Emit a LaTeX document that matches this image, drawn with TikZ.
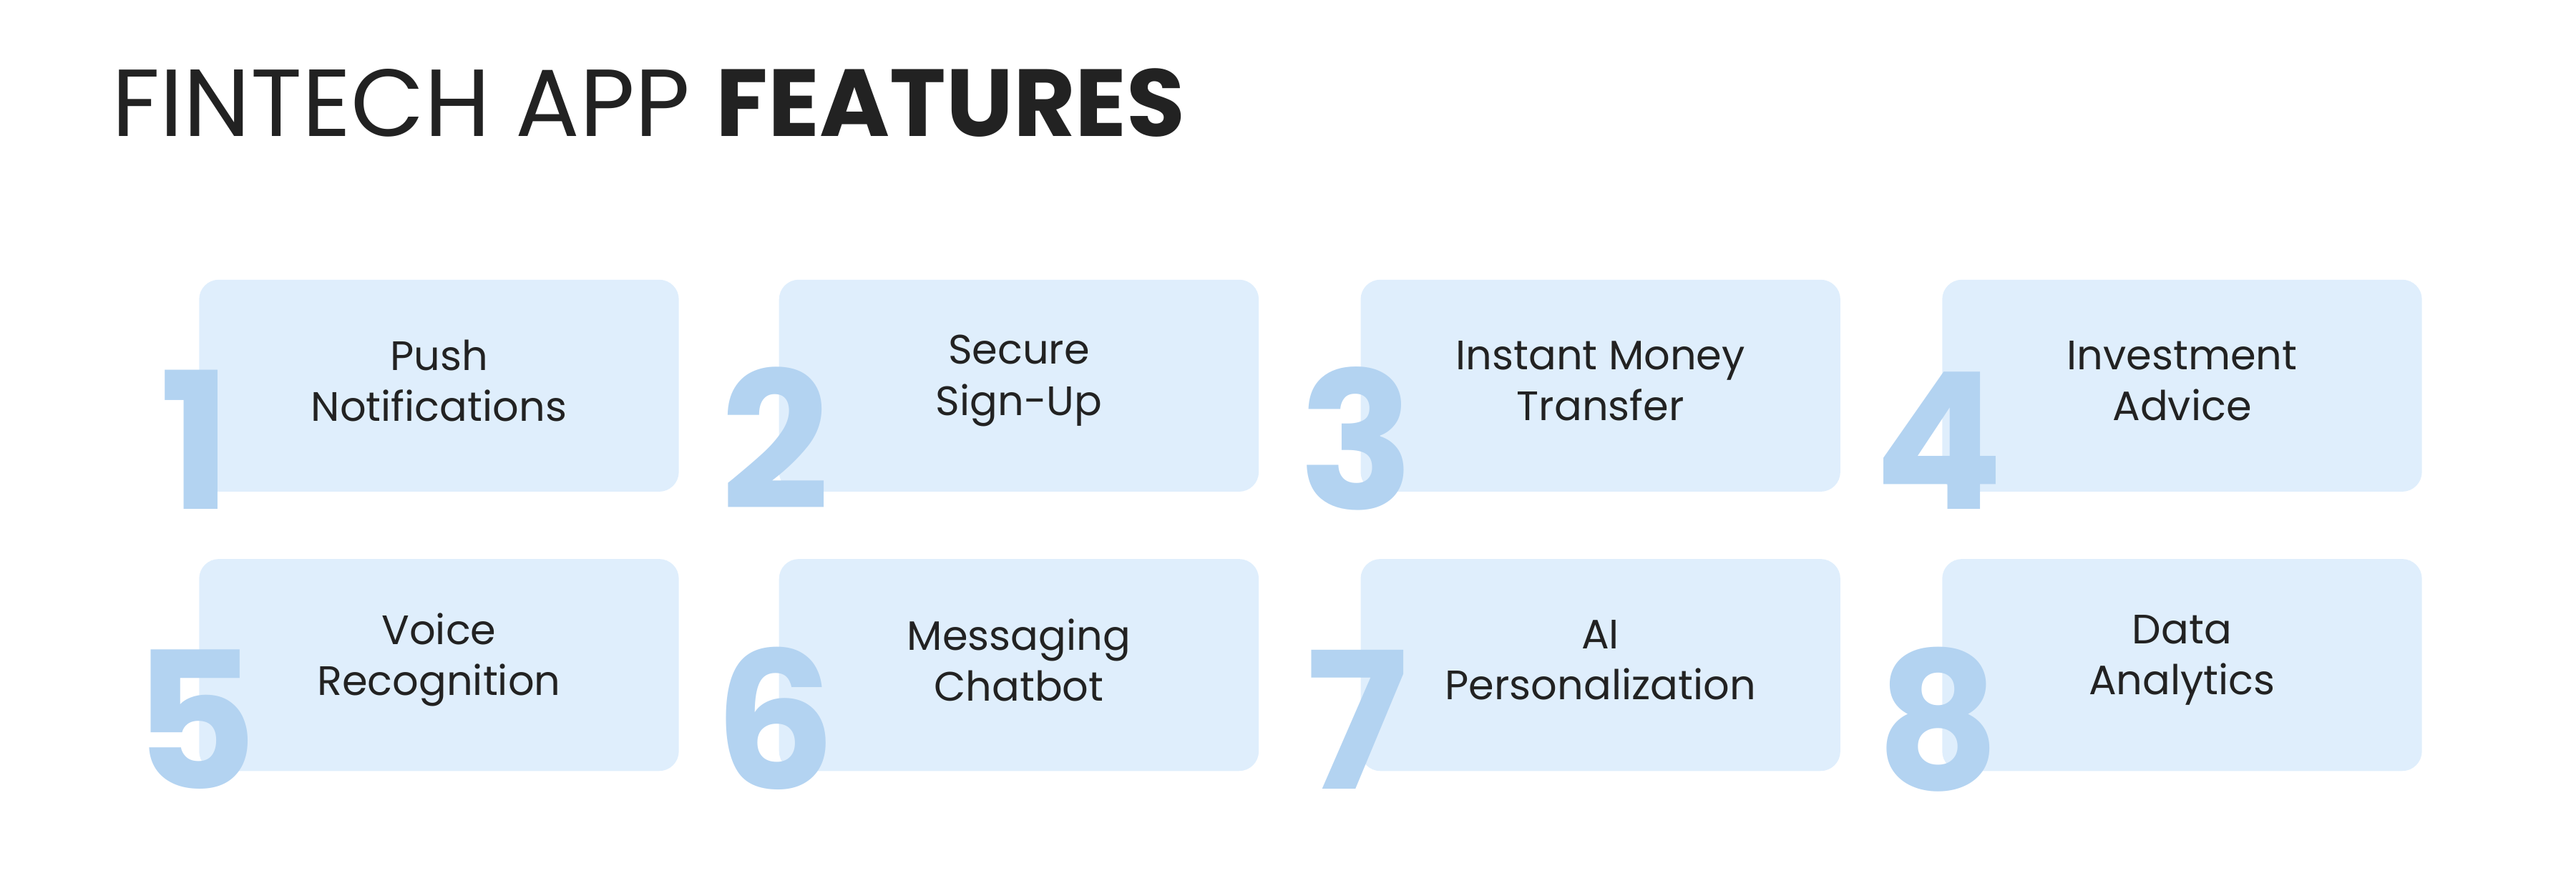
\documentclass[tikz,border=0pt]{standalone}
\usepackage{fontspec}
\setmainfont{Poppins}
\definecolor{boxc}{HTML}{DFEEFC}
\definecolor{numc}{HTML}{B3D3F1}
\definecolor{txt}{HTML}{222222}
\begin{document}
\begin{tikzpicture}[x=1pt,y=-1pt,
  fbox/.style={fill=boxc,rounded corners=12pt,minimum width=292pt,minimum height=129pt,anchor=north west,inner sep=0pt},
  num/.style={text=numc,font=\fontsize{116}{116}\selectfont\bfseries,anchor=base,inner sep=0pt},
  lab/.style={text=txt,font=\fontsize{25}{31}\selectfont,align=center}]
\useasboundingbox (0,0) rectangle (1568,533);
\node[anchor=base west,inner sep=0pt,text=txt,font=\fontsize{58}{58}\selectfont] (title) at (68,83) {FINTECH APP \textbf{FEATURES}};
\foreach \i/\x/\y/\t in {1/121/170/{Push\\Notifications},2/474/170/{Secure\\Sign-Up},3/828/170/{Instant Money\\Transfer},4/1182/170/{Investment\\Advice},5/121/340/{Voice\\Recognition},6/474/340/{Messaging\\Chatbot},7/828/340/{AI\\Personalization},8/1182/340/{Data\\Analytics}}{
  \node[fbox] (b\i) at (\x,\y) {};
  \node[lab] (l\i) at ([yshift=3pt]b\i.center) {\t};
  \node[num] (n\i) at ([xshift=-2pt,yshift=-140pt]b\i.north west) {\i};
}
\end{tikzpicture}
\end{document}
